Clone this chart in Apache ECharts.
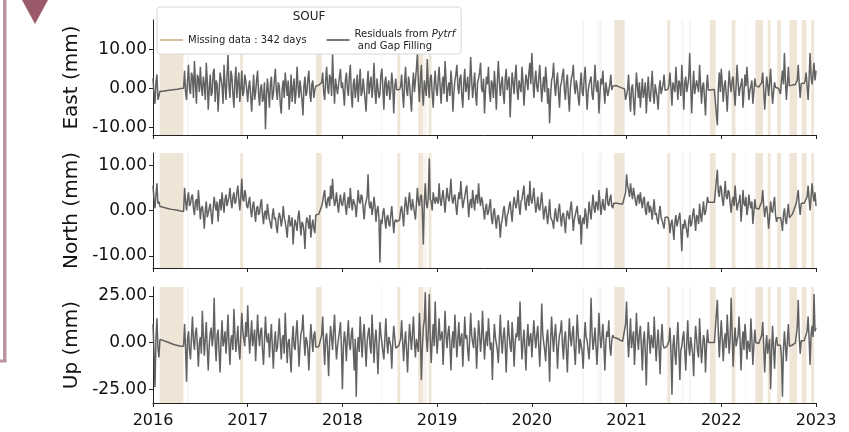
<!DOCTYPE html>
<html>
<head>
<meta charset="utf-8">
<script src="https://cdn.jsdelivr.net/npm/echarts@6/dist/echarts.min.js"></script>
<style>
html, body { margin: 0; padding: 0; background: #fff; }
#chart { width: 849px; height: 432px; }
</style>
</head>
<body>
<div id="chart"></div>
<script>
// values, one row per year (2016 ... 2022, then the 2023.0 end point)
const startYear = 2016;
const yearTicks = [2016, 2017, 2018, 2019, 2020, 2021, 2022, 2023];

// East residuals (mm)
const east = [
  [2.5, -1.5, -4.0, 1.5, 3.5, -3.0, -2.0, -0.8,
   -0.8, -0.78, -0.75, -0.72, -0.7, -0.65, -0.6, -0.58, -0.55, -0.52, -0.5, -0.45, -0.4, -0.38, -0.35, -0.32, -0.3, -0.25, -0.2, -0.15, -0.1, -0.05, 0.0, 0.0,
   4.5, -1.0, -3.0, 2.0, 6.0, 0.0, -1.5, 4.0, 3.0, -2.5, 7.0, 1.5, -4.0, 3.5, 2.5, -1.0, 5.5, 0.5, -2.0, 3.0, 1.0, -3.0, 6.5, 2.0, -5.5, 0.0, 3.5, -2.0, -1.0, 4.0, 5.0, -3.5, 2.0, 1.0, -6.0, -1.0, 4.0, 2.5, 0.5, -4.0, 6.0, 1.0, -3.0, 3.0, 8.5, 0.5, -2.5, 4.5, 3.0, -1.5, -5.0, 2.0, 5.5, -2.5, 1.5, 4.0, -3.5, 0.0, 4.5, -2.0, -1.0, 3.5, 2.0, -0.5],
  [-3.5, 0.5, 2.0, -2.0, -6.0, -1.0, 3.5, -3.0, -1.0, 2.0, 4.5, -1.5, -4.5, 0.0, 1.0, -3.5, -2.5, 1.5, -10.5, -2.0, 2.5, -1.0, -5.0, 1.0, 3.0, -3.0, -1.5, 2.0, 5.0, -0.5, -3.0, 1.5, 0.5, -4.0, -6.5, 0.0, 2.0, -2.5, 4.0, 1.0, -2.0, 2.0, -5.5, -1.5, 3.5, -3.5, 0.0, 2.5, -4.0, -1.0, 5.5, 0.5, -2.5, 2.0, 1.5, -3.0, -7.0, 0.5, 3.0, -2.0, -1.0, 2.5, 4.5, -1.5, -3.5, 1.0, 2.0, -2.5, -0.5, 0.5,
   0.6, 0.7, 0.8, 0.85, 0.9, 1.5,
   4.0, -1.0, -3.0, 2.0, 5.5, 0.0, -1.5, 3.5, 2.5, -2.0, 9.0, 1.0, -4.0, 2.5, 3.0, -1.5, -2.0, 3.0, 5.0, 0.0],
  [1.5, -1.0, -4.5, 2.0, 4.0, 0.0, -2.0, 3.0, 6.0, -1.5, -5.0, 1.0, 2.5, -2.5, 0.0, 3.5, -3.5, 1.0, 5.0, -2.0, -1.0, 2.5, 3.0, -3.0, -6.0, 0.5, 4.5, -1.5, 1.0, 3.0, -2.5, 0.5, 6.5, -1.0, -4.0, 2.5, 2.0, -2.5, -1.5, 3.5, 5.0, 0.0, -5.5, 1.5, 3.0, -2.0, 0.5, 2.0, -3.0, -0.5, 4.0, 1.0, -6.5, 0.0, 2.5, -0.4,
   -0.4, -0.35, -0.3, 0.5,
   3.5, -1.5, -5.0, 1.5, 5.5, -0.5, -2.0, 3.0, 1.0, -2.5, -6.0, 0.5, 4.0, -1.0, 2.0, 5.0, 9.0, 1.0, -3.5, 2.5, 6.0, -1.0, -4.5, 2.0, 1.5, -2.0, 7.5, 1.0, -2.5, 2.5, 3.5, -1.5, -5.0, 1.0, 4.5, 0.0],
  [-2.0, 2.0, 5.5, 0.5, -4.0, 1.0, 3.0, -1.5, 7.0, 2.5, -3.5, 0.0, 1.5, -2.0, 4.5, 1.0, -6.0, -1.0, 2.0, 3.5, 6.0, 0.5, -1.5, 2.5, 3.5, -2.0, -5.0, 1.5, 5.0, -1.0, 0.5, 3.0, -3.0, 1.0, 8.0, 2.0, -2.5, 0.5, 4.0, -1.5, -4.5, 1.5, 2.5, 4.0, 6.5, 0.0, -1.0, 2.5, -6.5, -0.5, 3.0, 1.0, 5.5, -1.0, -3.5, 2.0, 1.0, -2.5, 4.5, 0.5, -5.5, 1.5, 7.0, 2.0, -2.0, 1.0, 3.0, -1.5, -4.0, 2.5, 5.0, -0.5, 1.5, 3.0, -7.5, -1.0, 4.0, 1.5, -1.5, 3.0, 6.0, -0.5, -3.0, 2.0, 2.0, -1.0, 5.5, 1.5, -4.5, 0.0, 3.5, 2.0, -0.5, 4.0, 6.5, 1.0],
  [9.0, 3.0, -2.5, 1.5, 4.5, 0.5, -1.0, 2.5, 6.0, 1.0, -3.5, 0.5, 3.0, -1.0, 5.5, 2.0, -4.0, 0.0, -9.0, -2.0, 2.0, 3.0, 6.5, 1.0, -2.0, 1.5, 4.0, -1.0, -5.0, 0.5, 1.5, 3.5, 5.0, -0.5, -3.0, 1.5, 3.5, -2.0, -6.0, 0.0, 2.5, 3.5, 6.0, 0.5, -1.5, 2.0, 0.5, -2.5, -4.5, 1.0, 4.0, -1.0, -2.0, 2.5, 5.5, 0.0, -5.5, -1.0, 1.0, 2.0, 3.0, -1.5, -3.0, 1.0, 6.0, 0.5, -1.0, 2.0, -6.5, -1.5, 2.5, 1.0, 4.5, -0.5, -4.0, 1.5, 1.5, -2.0, -2.5, 1.0, 3.5, -0.5, 0.5, 0.7,
   0.8, 0.7, 0.6, 0.5, 0.4, 0.3, 0.2, 0.1, 0.0, -0.1, -0.2, -3.0],
  [-3.0, -0.5, 3.5, -2.0, -6.0, 0.0, 1.0, -3.0, -7.0, -1.5, 4.0, 0.5, -2.5, 1.5, -5.0, -1.0, 2.5, -2.5, -1.0, 1.5, -6.5, -1.0, 3.0, -2.0, -3.5, 0.5, 4.5, -1.5, -4.0, 1.0, 0.5, -2.5, -5.5, 0.0, 2.0, -1.5, -2.0, 1.0, 3.5, -0.5,
   -0.5, -0.4, -0.3, 1.0,
   4.0, 0.0, -4.5, 1.5, 2.0, -1.0, 5.5, 1.0, -3.0, 2.0, 1.0, -2.0, 6.0, 0.5, -5.5, 1.5, 3.0, -1.0, -1.5, 2.5, 9.0, 1.0, -6.5, 0.0, 4.5, -1.5, -2.0, 2.0, 2.5, -1.0, 6.0, 1.0, -4.0, 0.5, 1.5, -2.5, -7.0, 0.0, 3.5, -0.5,
   -0.5, -0.45, -0.4, -0.4, -0.4, -0.35, -0.3, -0.3,
   -9.5, 0.0, 4.0, -1.0],
  [5.0, 1.0, -3.5, 0.5, 2.0, -1.5, -6.0, -0.5, 4.5, 1.0, -1.0, 2.0, 3.0, -1.0, -4.5, 0.5, 6.0, 1.5, -2.0, 0.0, 1.0, 2.5, -5.0, -1.0, 3.5, 0.5, 5.5, 1.0, -3.0, -0.5, 0.5, 2.0, -4.0, -1.0, 2.5, 0.6,
   0.5, 0.4, 0.3, 0.25, 0.2, 1.5,
   4.0, -0.5, -5.5, -1.0, 3.0, 1.0, -2.0, 1.5, 5.0, 0.0, -4.0, -1.0, 1.5, 0.2,
   0.2, 0.1, 0.0, -0.5,
   -1.5, 2.0, 4.5, 1.0, 9.0, 2.0, -3.0, 1.0, 5.5, 0.6,
   0.6, 0.7, 0.8, 0.85, 0.9, 0.95, 1.0, 2.0,
   6.0, 1.0, -2.5, 1.2,
   1.2, 1.25, 1.3, 2.0,
   4.0, 0.5, -3.0, 2.5, 9.0, 3.0, 1.0, 3.5, 6.5, 2.0],
  [4.5]
];

// North residuals (mm)
const north = [
  [5.5, 2.5, 0.5, 3.5, 6.0, 1.5, 2.0, 0.9,
   0.9, 0.82, 0.75, 0.68, 0.6, 0.55, 0.5, 0.45, 0.4, 0.35, 0.3, 0.25, 0.2, 0.18, 0.15, 0.12, 0.1, 0.05, 0.0, -0.05, -0.1, -0.15, -0.2, -0.2,
   5.0, 2.0, 0.0, 2.5, 4.0, 1.0, 1.5, 3.0, 3.5, 0.5, -1.0, 2.0, 2.5, 0.0, 4.5, 1.5, -2.0, 0.5, 1.0, -1.0, -4.0, 0.0, 2.0, -1.5, -1.5, 0.5, 1.5, -1.0, -3.0, 0.5, 3.0, 1.0, 0.0, 2.0, -2.5, 1.0, 2.5, 0.0, 4.0, 1.5, -0.5, 2.5, 3.5, 1.0, 1.0, 3.0, 5.0, 2.0, 0.5, 3.0, 4.0, 1.5, 2.0, 4.0, 5.5, 2.5, 0.0, 3.0, 7.0, 2.5, 2.0, 4.5, 3.5, 1.0],
  [0.5, 2.0, 3.0, 0.0, -1.5, 1.0, 2.0, -0.5, -2.5, 0.5, 1.0, -1.0, -0.5, 1.5, 2.5, -1.0, -3.0, -0.5, 0.0, -2.0, 1.5, -0.5, -2.0, -3.0, -4.0, -1.0, 0.5, -2.0, -1.5, -3.5, -5.0, -2.0, -0.5, -1.5, -3.5, -2.0, 1.0, -1.5, -2.5, -4.0, -6.0, -2.5, -1.0, -3.5, -3.0, -1.5, -7.5, -4.0, -2.0, -3.0, -4.5, -1.5, 0.0, -3.0, -5.5, -2.5, -3.0, -4.5, -8.5, -3.0, -1.5, -2.5, -4.0, -1.0, -6.0, -3.5, -2.0, -4.0, -5.0, -1.0,
   -1.0, -0.9, -0.8, -0.7, -0.6, 1.0,
   2.0, 3.5, 4.5, 1.5, 0.5, 2.5, 3.0, 1.0, 5.5, 2.5, 7.0, 3.0, 1.0, 2.0, 4.0, 1.5, -0.5, 2.0, 3.5, 1.5],
  [1.0, 2.5, 4.0, 1.0, -1.0, 1.5, 3.0, 0.5, 5.0, 2.0, 0.0, 2.5, 2.5, 1.0, -1.5, 1.5, 4.5, 2.0, 1.5, 3.5, 3.0, 0.5, -2.0, 1.0, 2.0, 3.0, 8.0, 1.5, 0.5, 2.0, -1.0, 0.5, 3.0, 1.0, -2.5, 0.0, 1.0, -1.5, -11.5, -2.0, -3.0, -0.5, 0.5, -2.0, -4.0, -1.5, -1.0, -3.0, -3.5, -1.0, 1.0, -2.0, -5.0, -2.5, -2.0, -2.5,
   -2.5, -2.3, -2.0, 0.0,
   1.0, -1.0, -3.5, 0.5, 3.0, 1.0, -1.0, 2.0, 4.0, 1.0, 0.0, 2.5, 2.5, -0.5, -2.0, 1.5, 5.0, 2.0, 1.0, 3.0, 3.5, 0.0, -7.5, 2.0, 6.0, 1.5, 0.5, 3.0, 11.5, 2.5, 2.0, 0.0, 4.0, 2.5, 1.5, 3.0],
  [3.0, 1.5, 6.0, 2.5, 1.0, 3.0, 4.5, 2.0, -0.5, 2.5, 5.0, 3.0, 2.0, 4.0, 7.0, 2.5, 1.5, 3.0, 3.5, 1.0, -1.0, 2.0, 4.0, 2.5, 6.5, 3.0, 0.5, 2.0, 3.0, 4.5, 5.5, 2.0, -1.5, 1.5, 2.5, 0.5, 4.5, 2.0, 0.0, 3.0, 3.5, 1.5, 6.0, 2.5, 1.0, 3.0, 2.0, 0.0, -2.0, 0.5, 1.5, -1.0, -0.5, 1.0, 2.5, -1.5, -3.0, -0.5, 0.5, -2.0, -4.0, -1.5, -1.0, -2.5, -6.0, -3.0, -2.0, 0.0, 1.0, -1.5, -3.5, -1.0, -0.5, 1.0, 2.0, -0.5, -2.5, 1.0, 3.0, 1.5, 0.5, 2.0, 4.5, 1.0, -1.0, 2.0, 2.5, 4.0, 5.5, 1.5, 0.0, 2.5, 3.5, 1.0, 6.5, 2.5],
  [1.5, 3.0, 5.0, 2.0, -0.5, 1.0, 3.0, 0.5, 0.0, 2.0, 4.0, 1.0, -2.0, 0.0, 1.0, -1.0, -3.0, -0.5, 2.5, -1.5, -1.5, -2.5, -4.0, -1.0, 0.5, -2.0, -2.5, 0.0, 1.5, -1.5, -3.5, -1.0, -0.5, -2.5, -5.0, -1.5, 0.0, -1.0, -2.0, 0.5, 2.0, -1.0, -4.5, -2.0, -1.0, 0.0, 1.0, -2.0, -3.0, -1.0, -7.5, -2.5, -1.5, -3.0, 0.5, -1.0, -4.0, -1.5, 2.0, 0.0, -2.0, 1.0, 3.5, 0.5, -0.5, 2.0, 1.5, 0.0, 4.5, 2.0, -1.0, 1.0, 2.5, 0.5, 0.0, 3.0, 5.0, 1.5, 1.0, 2.5, 3.5, 1.0, 0.5, 1.6,
   1.6, 1.6, 1.6, 1.55, 1.5, 1.5, 1.5, 1.45, 1.4, 1.4, 1.4, 4.0],
  [8.0, 5.5, 4.5, 3.0, 6.0, 4.0, 2.5, 5.0, 5.0, 2.0, 1.0, 3.0, 3.5, 1.5, 4.0, 2.0, 0.5, 2.5, 3.0, 0.0, -1.0, 1.5, 2.0, -0.5, 1.0, 0.0, -2.0, 0.5, 2.5, -1.0, -0.5, -2.0, -3.0, -0.5, 1.0, -1.5, -1.5, -3.0, -4.0, -1.5,
   -1.5, -1.5, -1.5, -2.5,
   -5.0, -3.0, -2.0, -4.0, -6.5, -2.5, -1.0, -3.5, -3.5, -1.5, -0.5, -4.5, -9.0, -3.0, -4.0, -2.0, -2.0, -4.5, -6.0, -2.5, -1.0, -3.5, -3.0, -1.0, 0.5, -2.0, -4.5, -1.0, -1.5, -3.0, 1.5, -1.0, -2.5, 0.0, 2.0, -1.0, -0.5, 1.0, 3.0, 1.8,
   1.8, 1.8, 1.8, 1.8, 1.8, 1.8, 1.8, 1.8,
   9.0, 4.0, 3.0, 5.5],
  [5.0, 2.5, 1.0, 3.5, 6.5, 3.0, 2.5, 4.5, 4.0, 1.5, -0.5, 2.0, 3.0, 1.0, 5.5, 2.5, 0.0, 1.5, 2.0, 3.5, -2.5, 0.5, 4.5, 1.5, 1.0, 3.0, -1.0, 0.5, 3.5, 1.5, 0.5, 2.0, -3.0, -0.5, 2.5, 0.5, 0.5, 0.4, 0.3, 0.25, 0.2, 2.0, 4.5, 1.0, -1.5, 0.5, 1.0, -1.0, -4.0, -1.5, 2.0, 0.0, -0.5, 1.5, 3.0, -1.0, -2.5, -1.6, -1.6, -1.6, -1.6, -2.5, -4.5, -1.0, 0.5, -2.0, -3.0, -0.5, 1.5, -1.6, -1.6, -1.2, -0.8, -0.2, 0.4, 1.0, 1.6, 3.0, 4.5, 1.0, -1.0, 1.6, 1.6, 1.6, 1.6, 1.6, 1.6, 3.0, 5.5, 2.5, 0.0, 3.0, 6.0, 3.5, 2.0, 4.0],
  [1.0]
];

// Up residuals (mm)
const up = [
  [10.0, -5.0, -24.0, 2.0, 13.0, -3.0, -8.0, 1.6,
   1.6, 1.4, 1.2, 1.0, 0.8, 0.6, 0.4, 0.2, 0.0, -0.2, -0.4, -0.6, -0.8, -1.0, -1.2, -1.4, -1.5, -1.6, -1.8, -1.9, -2.0, -2.0, -2.0, -2.0,
   10.0, -3.0, -21.0, 2.0, 6.0, -4.0, -9.0, 3.0, 14.0, 1.0, -4.0, 5.0, 8.0, -2.0, -13.0, 0.0, 3.0, -6.0, 17.0, 4.0, -7.0, 2.0, 11.0, -3.0, -15.0, -1.0, 5.0, 8.0, -2.0, 3.0, 24.0, 0.0, -10.0, 4.0, 7.0, -5.0, -16.0, 1.0, 12.0, -2.0, 1.0, 6.0, -6.0, 3.0, 15.0, -1.0, -12.0, 2.0, 4.0, -4.0, 18.0, 5.0, -5.0, 1.0, 9.0, -3.0, -9.0, 4.0, 16.0, 6.0, 2.0, -2.0, 11.0, 3.0],
  [20.0, 5.0, -6.0, 3.0, 12.0, -2.0, 3.0, 7.0, -10.0, 2.0, 15.0, 4.0, -2.0, 6.0, 8.0, -4.0, -12.0, 1.0, 14.0, 3.0, 0.0, 5.0, -8.0, 2.0, 10.0, -3.0, -14.0, 0.0, 6.0, -5.0, -3.0, 4.0, 13.0, 1.0, -9.0, 2.0, 4.0, -6.0, 16.0, 3.0, -11.0, 0.0, 2.0, -7.0, -16.0, 1.0, 9.0, -2.0, -4.0, 5.0, 12.0, 0.0, -13.0, -2.0, 5.0, 7.0, 15.0, 2.0, -7.0, 3.0, 1.0, -4.0, -15.0, 0.0, 10.0, 2.0, -5.0, 4.0, 6.0, -2.4,
   -2.4, -2.3, -2.2, -2.1, -2.0, 4.0,
   14.0, -1.0, -12.0, 2.0, 5.0, -4.0, -18.0, 0.0, 9.0, 3.0, -4.0, 6.0, 15.0, 1.0, -9.0, -2.0, 2.0, 6.0, 11.0, -3.0],
  [-25.0, -2.0, 6.0, 1.0, -10.0, 3.0, 12.0, -1.0, -4.0, 4.0, 8.0, -3.0, -15.0, 2.0, -29.0, -4.0, 3.0, -5.0, 14.0, 2.0, -8.0, 4.0, 10.0, -1.0, -13.0, 0.0, 5.0, 8.0, -2.0, -6.0, 15.0, 3.0, -11.0, 1.0, 7.0, -3.0, -17.0, -2.0, 11.0, 4.0, 0.0, -5.0, -9.0, 2.0, 13.0, 1.0, -6.0, 3.0, 4.0, -2.0, -14.0, 0.0, 9.0, 3.0, -3.0, -2.0,
   -2.0, -1.8, -1.5, 2.0,
   12.0, 1.0, -10.0, 0.0, 6.0, -4.0, -16.0, -1.0, 10.0, 3.0, -4.0, 5.0, 14.0, 0.0, -8.0, 2.0, 3.0, -5.0, 16.0, 4.0, -20.0, -3.0, 8.0, 12.0, 27.0, 3.0, -5.0, 6.0, 26.0, 2.0, -11.0, 1.0, 10.0, -2.0, 22.0, 4.0],
  [-6.0, 3.0, 13.0, 1.0, 2.0, 6.0, -12.0, 0.0, 17.0, 4.0, -3.0, 5.0, 9.0, -2.0, -15.0, 1.0, 6.0, -3.0, 15.0, 3.0, -8.0, 2.0, 11.0, -2.0, -1.0, 5.0, -13.0, 0.0, 14.0, 2.0, 4.0, -4.0, -10.0, 3.0, 16.0, 4.0, 0.0, -3.0, 8.0, 2.0, -14.0, -1.0, 12.0, 5.0, -5.0, 2.0, 17.0, 3.0, -9.0, 1.0, 6.0, -2.0, 13.0, 4.0, -4.0, 0.0, -20.0, -2.0, 10.0, 3.0, 2.0, -4.0, -11.0, 1.0, 15.0, 2.0, -6.0, 3.0, 8.0, -1.0, -16.0, 0.0, 12.0, 4.0, -2.0, -5.0, 11.0, 2.0, -13.0, -1.0, 5.0, 3.0, 14.0, 1.0, 22.0, 4.0, -9.0, 0.0, 7.0, -3.0, -15.0, 2.0, 10.0, -2.0, 2.0, 5.0],
  [-8.0, 2.0, 12.0, 3.0, -3.0, 4.0, 9.0, -2.0, -13.0, 1.0, 21.0, 5.0, 0.0, -4.0, -10.0, 2.0, 7.0, -3.0, -21.0, 1.0, 14.0, 3.0, -5.0, 4.0, 10.0, 0.0, -14.0, -2.0, 4.0, 6.0, 12.0, -1.0, -9.0, 2.0, 6.0, -4.0, -16.0, 0.0, 13.0, 3.0, -2.0, 5.0, 9.0, -3.0, -12.0, 1.0, 15.0, 4.0, -6.0, 2.0, 3.0, -5.0, -14.0, 0.0, 11.0, 3.0, 1.0, -4.0, -9.0, 2.0, 24.0, 5.0, -4.0, 1.0, 8.0, -2.0, -12.0, 0.0, 16.0, 4.0, -3.0, 3.0, 10.0, -1.0, -15.0, 0.0, 6.0, 3.0, 12.0, -2.0, -7.0, 1.0, 4.0, 2.8,
   2.8, 2.5, 2.3, 2.0, 1.8, 1.5, 1.2, 0.9, 0.6, 0.3, 0.0, 10.0],
  [22.0, 4.0, -8.0, 2.0, 13.0, -3.0, 2.0, 6.0, -12.0, 0.0, 16.0, 3.0, -4.0, 5.0, 9.0, -2.0, -15.0, 1.0, 6.0, -5.0, -23.0, -1.0, 11.0, 2.0, -6.0, 4.0, 3.0, -3.0, 14.0, 1.0, -10.0, 0.0, 7.0, -4.0, -17.0, 2.0, 10.0, -1.0, -3.0, -2.0,
   -2.0, -2.0, -2.0, 1.0,
   8.0, -5.0, -28.0, -2.0, 4.0, -6.0, -12.0, 1.0, 11.0, -3.0, -20.0, -4.0, -2.0, 3.0, 6.0, -5.0, -15.0, 0.0, 12.0, -2.0, -7.0, 3.0, 2.0, -6.0, -18.0, -1.0, 9.0, 2.0, -5.0, -8.0, 13.0, 0.0, -11.0, -3.0, 4.0, 1.0, -16.0, -2.0, 7.0, 0.0,
   0.0, 0.0, 0.0, 0.0, 0.0, 0.0, 0.0, 0.0,
   23.0, 5.0, -8.0, 3.0],
  [12.0, 2.0, -10.0, 1.0, 5.0, -3.0, 15.0, 4.0, -6.0, 3.0, 24.0, 5.0, -13.0, 0.0, 8.0, -2.0, -3.0, 4.0, 14.0, 2.0, -15.0, -1.0, 6.0, -4.0, 10.0, 3.0, -9.0, 1.0, 2.0, -5.0, 13.0, 2.0, -12.0, -2.0, 7.0, 0.0, -1.0, -0.8, -0.5, -0.2, 0.0, 4.0, 11.0, -2.0, -16.0, -3.0, 4.0, -6.0, -7.0, 2.0, -25.0, -5.0, 9.0, -3.0, -14.0, 0.0, 3.0, -1.5, -1.5, -1.5, -1.5, -8.0, -29.0, -4.0, 6.0, -2.0, -10.0, 1.0, 10.0, -2.0, -2.0, -1.7, -1.3, -1.0, -0.6, -0.3, 0.0, 8.0, 23.0, 3.0, -6.0, 1.0, 1.0, 1.0, 1.0, 1.0, 1.0, 6.0, 14.0, 2.0, -12.0, 4.0, 9.0, 3.0, 26.0, 6.0],
  [8.0]
];

// missing data spans (decimal years)
const missingBands = [
  [2016.07, 2016.32], [2016.92, 2016.95], [2017.72, 2017.78], [2018.58, 2018.61],
  [2018.80, 2018.85], [2018.91, 2018.94], [2020.87, 2020.98], [2021.43, 2021.46],
  [2021.88, 2021.94], [2022.11, 2022.15], [2022.36, 2022.44], [2022.49, 2022.52],
  [2022.59, 2022.63], [2022.72, 2022.80], [2022.85, 2022.90], [2022.95, 2022.98]
];
const faintBands = [
  [2016.36, 2016.38], [2018.41, 2018.42], [2018.85, 2018.89], [2020.53, 2020.55],
  [2020.69, 2020.70], [2020.71, 2020.74], [2021.58, 2021.60], [2021.66, 2021.68],
  [2022.25, 2022.26]
];

const panelNames = ['East (mm)', 'North (mm)', 'Up (mm)'];
const panelRanges = [[-12, 17.5], [-12.7, 12.7], [-32.4, 29.8]];
const panelTicks = [[-10, 0, 10], [-10, 0, 10], [-25, 0, 25]];
const panelValues = [east, north, up];

const MISSING = 'Missing data : 342 days';
const RESID = 'Residuals';
const FONT = 'DejaVu Sans';

// each row holds one year, spread evenly over that year
function toPairs(rows) {
  const out = [];
  rows.forEach((row, r) => {
    row.forEach((v, j) => out.push([startYear + r + j / row.length, v]));
  });
  return out;
}

function bandAreas(list, opacity) {
  return list.map(b => [
    { xAxis: b[0], itemStyle: { color: 'rgba(210,180,140,' + opacity + ')' } },
    { xAxis: b[1] }
  ]);
}

window.addEventListener('DOMContentLoaded', function () {
  const chart = echarts.init(document.getElementById('chart'), null, { renderer: 'canvas' });

  const tops = [20, 153, 287];
  const heights = [115, 115, 116];

  const grid = tops.map((t, k) => ({ left: 153, top: t, width: 663, height: heights[k] }));

  const xAxis = tops.map((t, k) => ({
    type: 'value',
    gridIndex: k,
    min: yearTicks[0],
    max: yearTicks[yearTicks.length - 1],
    interval: 1,
    axisLine: { show: true, onZero: false, lineStyle: { color: '#222', width: 1 } },
    axisTick: { show: true, length: 4, lineStyle: { color: '#222' } },
    axisLabel: {
      show: k === 2,
      fontFamily: FONT,
      fontSize: 16,
      color: '#111',
      margin: 10,
      formatter: v => String(v)
    },
    splitLine: { show: false }
  }));

  const yAxis = tops.map((t, k) => ({
    type: 'value',
    gridIndex: k,
    min: panelRanges[k][0],
    max: panelRanges[k][1],
    name: panelNames[k],
    nameLocation: 'middle',
    nameGap: 61,
    nameTextStyle: { fontFamily: FONT, fontSize: 20, color: '#111' },
    axisLine: { show: true, onZero: false, lineStyle: { color: '#222', width: 1 } },
    axisTick: { show: true, length: 4, customValues: panelTicks[k], lineStyle: { color: '#222' } },
    axisLabel: {
      fontFamily: FONT,
      fontSize: 17,
      color: '#111',
      margin: 6,
      customValues: panelTicks[k],
      formatter: v => v.toFixed(2)
    },
    splitLine: { show: false }
  }));

  const series = [];
  tops.forEach((t, k) => {
    series.push({
      name: MISSING,
      type: 'line',
      xAxisIndex: k,
      yAxisIndex: k,
      data: [],
      color: '#d9bc9a',
      silent: true,
      markArea: {
        silent: true,
        data: bandAreas(missingBands, 0.35).concat(bandAreas(faintBands, 0.14))
      }
    });
    series.push({
      name: RESID,
      type: 'line',
      xAxisIndex: k,
      yAxisIndex: k,
      data: toPairs(panelValues[k]),
      color: '#666',
      showSymbol: false,
      symbol: 'none',
      lineStyle: { color: 'rgba(85,85,85,0.92)', width: 1.5 },
      z: 3
    });
  });

  const option = {
    animation: false,
    backgroundColor: '#fff',
    grid: grid,
    xAxis: xAxis,
    yAxis: yAxis,
    series: series,
    legend: {
      left: 157,
      top: 7,
      data: [
        { name: MISSING, icon: 'rect', itemStyle: { color: '#d9bc9a' } },
        { name: RESID, icon: 'rect', itemStyle: { color: '#777' } }
      ],
      selectedMode: false,
      itemWidth: 23,
      itemHeight: 2,
      itemGap: 20,
      padding: [21, 6, 2, 3],
      backgroundColor: '#fff',
      borderColor: '#d8d8d8',
      borderWidth: 1,
      borderRadius: 3,
      textStyle: {
        fontFamily: FONT,
        fontSize: 10,
        color: '#222',
        lineHeight: 12,
        rich: { i: { fontFamily: FONT, fontSize: 10, fontStyle: 'italic', color: '#222' } }
      },
      formatter: function (name) {
        if (name === RESID) return 'Residuals from {i|Pytrf}\n and Gap Filling';
        return name;
      }
    },
    graphic: [
      { type: 'text', z: 100, style: { x: 309, y: 17, text: 'SOUF', fontFamily: FONT, fontSize: 12, fill: '#222', align: 'center', verticalAlign: 'middle' } },
      { type: 'polygon', z: 100, shape: { points: [[22, 0], [48, 0], [35, 24]] }, style: { fill: '#9a5a6a' } },
      { type: 'rect', z: 100, shape: { x: 3, y: 0, width: 3.5, height: 362 }, style: { fill: '#bc95a0' } },
      { type: 'rect', z: 100, shape: { x: 0, y: 359.5, width: 6.5, height: 3 }, style: { fill: '#bc95a0' } }
    ]
  };

  chart.setOption(option);
  window.addEventListener('resize', () => chart.resize());
});
</script>
</body>
</html>
